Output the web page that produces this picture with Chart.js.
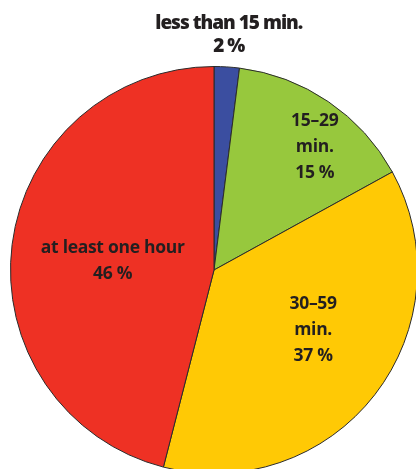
<!DOCTYPE html>
<html>
<head>
<meta charset="utf-8">
<script src="https://cdn.jsdelivr.net/npm/chart.js@4"></script>
<style>
  html, body { margin: 0; padding: 0; background: #fff; overflow: hidden; }
  #wrap { position: absolute; left: 0; top: 0; width: 428px; height: 480px; }
</style>
</head>
<body>
<div id="wrap"><canvas id="pieChart"></canvas></div>
<script>
// data
const categories = ['less than 15 min.', '15–29 min.', '30–59 min.', 'at least one hour'];
const shares = [2, 15, 37, 46];
const labelLines = [
    ['less than 15 min.', '2 %'],
    ['15–29', 'min.', '15 %'],
    ['30–59', 'min.', '37 %'],
    ['at least one hour', '46 %']
];
const sliceColors = ['#3b4ea0', '#97c83d', '#ffc905', '#ee3124'];

// where each label sits: fraction of radius and angle nudge (deg)
const labelRadius = [1.155, 0.78, 0.57, 0.5];
const labelTurn = [0, 5.2, -6.5, -2];
const labelHeavy = [true, false, false, false];

const sliceLabels = {
    id: 'sliceLabels',
    afterDatasetsDraw(chart) {
        const ctx = chart.ctx;
        const arcs = chart.getDatasetMeta(0).data;
        ctx.save();
        ctx.fillStyle = '#231f20';
        ctx.textAlign = 'center';
        ctx.textBaseline = 'middle';
        arcs.forEach(function(arc, i) {
            const p = arc.getProps(['x', 'y', 'startAngle', 'endAngle', 'outerRadius'], true);
            const mid = (p.startAngle + p.endAngle) / 2 + labelTurn[i] * Math.PI / 180;
            const r = p.outerRadius * labelRadius[i];
            const cx = p.x + Math.cos(mid) * r;
            const cy = p.y + Math.sin(mid) * r;
            const lines = labelLines[i];
            let gap = 26;
            if (labelHeavy[i]) {
                ctx.font = '800 19px "Open Sans"';
                ctx.letterSpacing = '-1px';
                gap = 23;
            } else {
                ctx.font = '700 17.5px "Open Sans"';
                ctx.letterSpacing = '-0.3px';
            }
            lines.forEach(function(t, k) {
                ctx.fillText(t, cx, cy + (k - (lines.length - 1) / 2) * gap);
            });
        });
        ctx.restore();
    }
};

new Chart(document.getElementById('pieChart'), {
    type: 'pie',
    data: {
        labels: categories,
        datasets: [{
            data: shares,
            backgroundColor: sliceColors,
            borderColor: '#2b2b2b',
            borderWidth: 1
        }]
    },
    options: {
        responsive: true,
        maintainAspectRatio: false,
        animation: false,
        layout: { padding: { left: 10, right: 10, top: 66, bottom: 6 } },
        plugins: {
            legend: { display: false },
            tooltip: { enabled: false }
        }
    },
    plugins: [sliceLabels]
});
</script>
</body>
</html>
